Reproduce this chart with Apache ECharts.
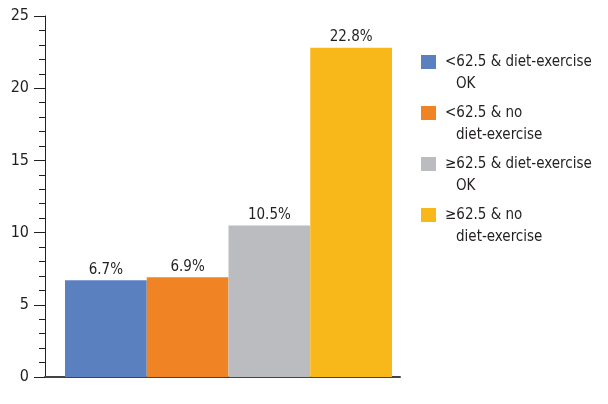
<!DOCTYPE html>
<html><head><meta charset="utf-8">
<script src="https://cdn.jsdelivr.net/npm/echarts@6/dist/echarts.min.js"></script>
<style>html,body{margin:0;padding:0;background:#fff}#c{width:608px;height:404px}</style>
</head><body><div id="c"></div>
<script>
const categories = ['<62.5 & diet-exercise OK', '<62.5 & no diet-exercise', '≥62.5 & diet-exercise OK', '≥62.5 & no diet-exercise'];
const legendLine1 = ['<62.5 & diet-exercise', '<62.5 & no', '≥62.5 & diet-exercise', '≥62.5 & no'];
const legendLine2 = ['OK', 'diet-exercise', 'OK', 'diet-exercise'];
const values = [6.7, 6.9, 10.5, 22.8];
const colors = ['#5b80c0', '#f08424', '#bbbcbf', '#f9b81a'];
const yTicks = [0, 5, 10, 15, 20, 25];

const FONT = "'DejaVu Sans Condensed', 'Liberation Sans', sans-serif";
const TXT = '#231f20';
const LH = 22;
const chart = echarts.init(document.getElementById('c'));
const series = categories.map((c, i) => ({
  name: categories[i],
  type: 'bar',
  xAxisIndex: 1, yAxisIndex: 1,
  stack: 'all',
  barCategoryGap: 0,
  itemStyle: { color: colors[i] },
  label: { show: true, position: 'top', distance: 3, formatter: p => p.value + '%', color: TXT, fontSize: 15, fontFamily: FONT },
  data: categories.map((_, j) => j === i ? values[i] : '-')
}));
chart.setOption({
  animation: false,
  textStyle: { fontFamily: FONT },
  grid: [
    { left: 45, right: 208, top: 16, bottom: 27 },
    { left: 65, right: 216, top: 16, bottom: 27 }
  ],
  legend: {
    orient: 'vertical', left: 421, top: 29, padding: 0,
    itemWidth: 15, itemHeight: 14, itemGap: 51 - 3 * LH, icon: 'rect',
    data: categories,
    formatter: name => {
      const i = categories.indexOf(name);
      return '{e| }\n{a|' + legendLine1[i] + '}\n{b|' + legendLine2[i] + '}';
    },
    textStyle: {
      color: TXT, fontSize: 15, lineHeight: LH, fontFamily: FONT,
      rich: {
        e: { fontSize: 15, lineHeight: LH },
        a: { fontSize: 15, lineHeight: LH, color: TXT, fontFamily: FONT, padding: [0, 0, 0, 4] },
        b: { fontSize: 15, lineHeight: LH, color: TXT, fontFamily: FONT, padding: [0, 0, 0, 15] }
      }
    }
  },
  xAxis: [
    { gridIndex: 0, type: 'category', data: [''], axisLine: { lineStyle: { color: '#444444', width: 2 } }, axisTick: { show: false }, axisLabel: { show: false } },
    { gridIndex: 1, type: 'category', data: categories, show: false }
  ],
  yAxis: [
    { gridIndex: 0, type: 'value', min: yTicks[0], max: yTicks[yTicks.length - 1], interval: 5,
      axisLine: { show: true, lineStyle: { color: '#231f20', width: 1 } },
      axisTick: { show: true, length: 11, lineStyle: { color: '#231f20' } },
      minorTick: { show: true, splitNumber: 5, length: 6, lineStyle: { color: '#231f20' } },
      splitLine: { show: false },
      axisLabel: { color: TXT, fontSize: 16, margin: 16, fontFamily: FONT } },
    { gridIndex: 1, type: 'value', min: yTicks[0], max: yTicks[yTicks.length - 1], show: false, splitLine: { show: false } }
  ],
  series: series
});
</script></body></html>
